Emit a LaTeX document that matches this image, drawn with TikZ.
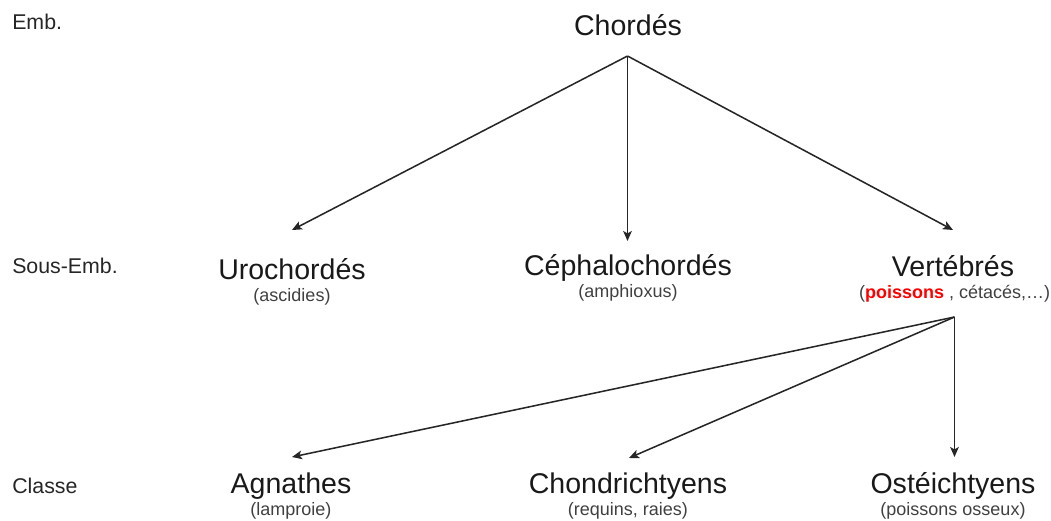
\documentclass[tikz,border=0pt]{standalone}
\usepackage{fontspec}
\setmainfont{Liberation Sans}
\usetikzlibrary{positioning, arrows.meta}

\begin{document}
\begin{tikzpicture}[x=0.75pt, y=-0.75pt,
    rank/.style={anchor=base west, inner sep=0pt, font=\fontsize{16}{19}\selectfont, text=black!85},
    taxon/.style={anchor=base, inner sep=0pt, font=\fontsize{21.4}{25}\selectfont, text=black!90},
    detail/.style={anchor=base, inner sep=0pt, font=\fontsize{13.5}{16}\selectfont, text=black!75},
    link/.style={-{Stealth[length=7.5pt, width=6.5pt, inset=1.8pt]}, line width=1.15pt, black!85}]
            \useasboundingbox (0,0) rectangle (1051,521);

            % Nodes
            \node[rank] (emb) at (12,30) {Emb.};
            \node[rank] (sousemb) at (12,273) {Sous-Emb.};
            \node[rank] (classe) at (12,493) {Classe};

            \node[taxon] (chordes) at (628,36) {Chordés};

            \node[taxon] (uro) at (292,279) {Urochordés};
            \node[detail, below=16.5pt of uro.base, anchor=base] (ascidies) {(ascidies)};

            \node[taxon] (ceph) at (628,275) {Céphalochordés};
            \node[detail, below=16.5pt of ceph.base, anchor=base] (amphioxus) {(amphioxus)};

            \node[taxon] (vert) at (953,276) {Vertébrés};
            \node[detail, below=16.5pt of vert.base, anchor=base, xshift=1.3pt] (cetaces) {(\textcolor{red}{\bfseries poissons} , cétacés,…)};

            \node[taxon] (agn) at (291,493) {Agnathes};
            \node[detail, below=16.5pt of agn.base, anchor=base] (lamproie) {(lamproie)};

            \node[taxon] (chondr) at (628,493) {Chondrichtyens};
            \node[detail, below=16.5pt of chondr.base, anchor=base] (requins) {(requins, raies)};

            \node[taxon] (ost) at (953,493) {Ostéichtyens};
            \node[detail, below=16.5pt of ost.base, anchor=base] (osseux) {(poissons osseux)};

            % Arrow ends
            \coordinate (chordes-root) at (627.5,56);
            \coordinate (vert-root) at (954.5,317);
            \coordinate (uro-in) at (292,230);
            \coordinate (ceph-in) at (627.5,241);
            \coordinate (vert-in) at (953,230);
            \coordinate (agn-in) at (292,457);
            \coordinate (chondr-in) at (629,458);
            \coordinate (ost-in) at (954.5,457);

            \draw[link] (chordes-root) -- (uro-in);
            \draw[link] (chordes-root) -- (ceph-in);
            \draw[link] (chordes-root) -- (vert-in);
            \draw[link] (vert-root) -- (agn-in);
            \draw[link] (vert-root) -- (chondr-in);
            \draw[link] (vert-root) -- (ost-in);
        \end{tikzpicture}
\end{document}
